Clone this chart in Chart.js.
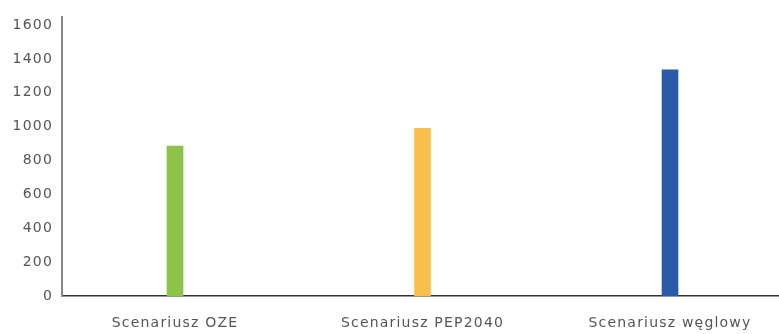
<!DOCTYPE html>
<html>
<head>
<meta charset="utf-8">
<script src="https://cdn.jsdelivr.net/npm/chart.js@4/dist/chart.umd.min.js"></script>
<style>
html,body{margin:0;padding:0;background:#fff;}
#wrap{width:779px;height:334px;position:relative;}
</style>
</head>
<body>
<div id="wrap"><canvas id="c"></canvas></div>
<script>
const categories = ["Scenariusz OZE", "Scenariusz PEP2040", "Scenariusz węglowy"];
const values = [885, 990, 1335];
const barColors = ["#8dc24b", "#f9c04d", "#2b5ba8"];
const yTicks = [0, 200, 400, 600, 800, 1000, 1200, 1400, 1600];

const spacingPlugin = {
  id: 'spacing',
  beforeDraw(chart) { chart.ctx.letterSpacing = '1.2px'; }
};

new Chart(document.getElementById('c'), {
  type: 'bar',
  data: {
    datasets: [{
      data: categories.map((c, i) => ({x: i, y: values[i]})),
      backgroundColor: barColors,
      borderWidth: 0,
      barThickness: 16
    }]
  },
  plugins: [spacingPlugin],
  options: {
    responsive: true,
    maintainAspectRatio: false,
    animation: false,
    layout: {padding: {left: 0, right: 0, top: 15, bottom: 0}},
    plugins: {legend: {display: false}, tooltip: {enabled: false}},
    scales: {
      x: {
        type: 'linear',
        offset: false,
        min: -0.4566,
        max: 2.4404,
        grid: {display: false, drawTicks: false, offset: false},
        border: {display: true, color: '#333', width: 1.5},
        afterBuildTicks(scale) { scale.ticks = categories.map((c, i) => ({value: i})); },
        afterFit(scale) { scale.height = 38; },
        ticks: {
          padding: 19,
          color: '#555',
          font: {family: 'DejaVu Sans', size: 14},
          callback: (v) => categories[v],
          maxRotation: 0,
          autoSkip: false
        }
      },
      y: {
        min: 0,
        max: 1645,
        grid: {display: false, drawTicks: false},
        border: {display: true, color: '#8a8a8a', width: 2},
        afterBuildTicks(scale) { scale.ticks = yTicks.map(v => ({value: v})); },
        afterFit(scale) { scale.width = 62; },
        ticks: {
          padding: 9,
          color: '#555',
          font: {family: 'DejaVu Sans', size: 14},
          callback: (v) => String(v)
        }
      }
    }
  }
});
</script>
</body>
</html>
